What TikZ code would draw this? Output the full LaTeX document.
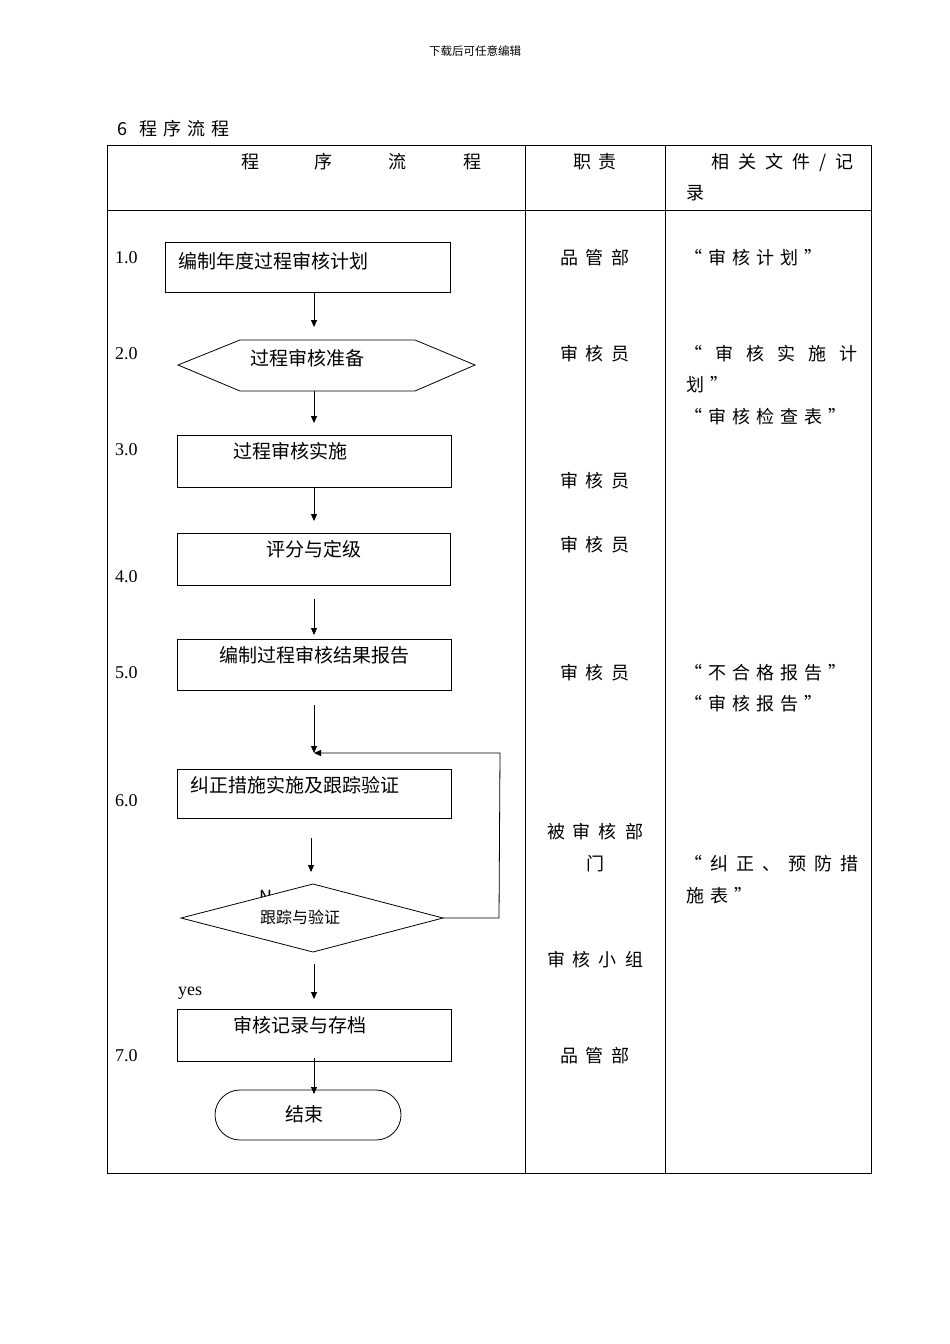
\documentclass[tikz,border=0pt]{standalone}
\usepackage{fontspec}
\setmainfont{Liberation Serif}
\newfontfamily\cjk{Noto Sans CJK SC}
\usetikzlibrary{arrows.meta}
\newcommand{\gp}{\hspace{8pt}}
\newcommand{\rg}{\hspace{6pt}}
\begin{document}
\begin{tikzpicture}[x=1pt,y=-1pt,
  every node/.style={font=\cjk\fontsize{18}{20}\selectfont,inner sep=0pt},
  fl/.style={font=\cjk\fontsize{19}{22}\selectfont},
  box/.style={draw,line width=0.8pt},
  arr/.style={-{Triangle[length=7pt,width=6pt]},line width=0.8pt},
  lbl/.style={font=\fontsize{18}{20}\selectfont,anchor=west},
  col/.style={anchor=west}]
\useasboundingbox (0,0) rectangle (950,1344);
\node (hdr) at (475,51) {\fontsize{11.5}{13}\selectfont 下载后可任意编辑};
\node[anchor=west] (title) at (117,129) {\fontsize{18}{20}\selectfont 6\hspace{12pt}程\hspace{6pt}序\hspace{6pt}流\hspace{6pt}程};
% table
\draw[line width=0.6pt] (107,145) rectangle (871,1173);
\draw[line width=0.6pt] (525,145) -- (525,1173) (665,145) -- (665,1173) (107,210) -- (871,210);
\node (h1) at (250,162) {程}; \node (h2) at (323,162) {序}; \node (h3) at (397,162) {流}; \node (h4) at (472,162) {程};
\node (h5) at (595,162) {职\gp 责};
\node[col] (h6) at (711,162) {相\hspace{9pt}关\hspace{9pt}文\hspace{9pt}件\hspace{9pt}/\hspace{9pt}记};
\node[col] (h7) at (686,193) {录};
% flow
\draw[box] (165,242) rectangle (450,292);
\node[fl,anchor=west] (t1) at (178,261) {编制年度过程审核计划};
\draw[box] (178,365) -- (240,340) -- (415,340) -- (475,365) -- (415,391) -- (240,391) -- cycle;
\node[fl] (t2) at (307,358) {过程审核准备};
\draw[box] (177,435) rectangle (451,487); \node[fl] (t3) at (290,451) {过程审核实施};
\draw[box] (177,533) rectangle (450,585); \node[fl] (t4) at (314,549) {评分与定级};
\draw[box] (177,639) rectangle (451,690); \node[fl] (t5) at (314,655) {编制过程审核结果报告};
\draw[box] (177,769) rectangle (451,818); \node[fl,anchor=west] (t6) at (190,785) {纠正措施实施及跟踪验证};
\node (n) at (266,897) {\fontsize{18}{20}\selectfont N};
\draw[box,fill=white] (181,918) -- (313,884) -- (443,918) -- (313,952) -- cycle;
\node (t7) at (300,917) {\fontsize{16}{18}\selectfont 跟踪与验证};
\draw[box] (177,1009) rectangle (451,1061); \node[fl] (t8) at (300,1025) {审核记录与存档};
\draw[box,rounded corners=25pt] (215,1090) rectangle (401,1140); \node[fl] (t9) at (304,1114) {结束};
\foreach \a/\b/\xx in {293/327/314,391/423/314,487/521/314,599/635/314,705/753/314,838/872/311,964/999/314,1058/1094/314}
  \draw[arr] (\xx,\a) -- (\xx,\b);
\coordinate (fa) at (443,918); \coordinate (fb) at (499,918); \coordinate (fc) at (500,753); \coordinate (fd) at (314,753);
\draw[arr] (fa) -- (fb) -- (fc) -- (fd);
\foreach \t/\yy in {1.0/258,2.0/354,3.0/450,4.0/577,5.0/673,6.0/801,7.0/1056}
  \node[lbl] at (115,\yy) {\t};
\node[lbl] (yes) at (178,993) {yes};
% responsibility
\foreach \t/\yy in {品\gp 管\gp 部/258,审\gp 核\gp 员/354,审\gp 核\gp 员/481,审\gp 核\gp 员/545,审\gp 核\gp 员/673,被\gp 审\gp 核\gp 部/832,门/864,审\gp 核\gp 小\gp 组/960,品\gp 管\gp 部/1056}
  \node at (595,\yy) {\t};
% records
\node[col] at (684,258) {“\rg 审\rg 核\rg 计\rg 划\rg ”};
\node[col] at (684,354) {“\hspace{13pt}审\hspace{13pt}核\hspace{13pt}实\hspace{13pt}施\hspace{13pt}计};
\node[col] at (686,385) {划\rg ”};
\node[col] at (684,417) {“\rg 审\rg 核\rg 检\rg 查\rg 表\rg ”};
\node[col] at (684,673) {“\rg 不\rg 合\rg 格\rg 报\rg 告\rg ”};
\node[col] at (684,704) {“\rg 审\rg 核\rg 报\rg 告\rg ”};
\node[col] at (684,864) {“\hspace{8pt}纠\hspace{8pt}正\hspace{8pt}、\hspace{8pt}预\hspace{8pt}防\hspace{8pt}措};
\node[col] at (686,896) {施\rg 表\rg ”};
\end{tikzpicture}
\end{document}
